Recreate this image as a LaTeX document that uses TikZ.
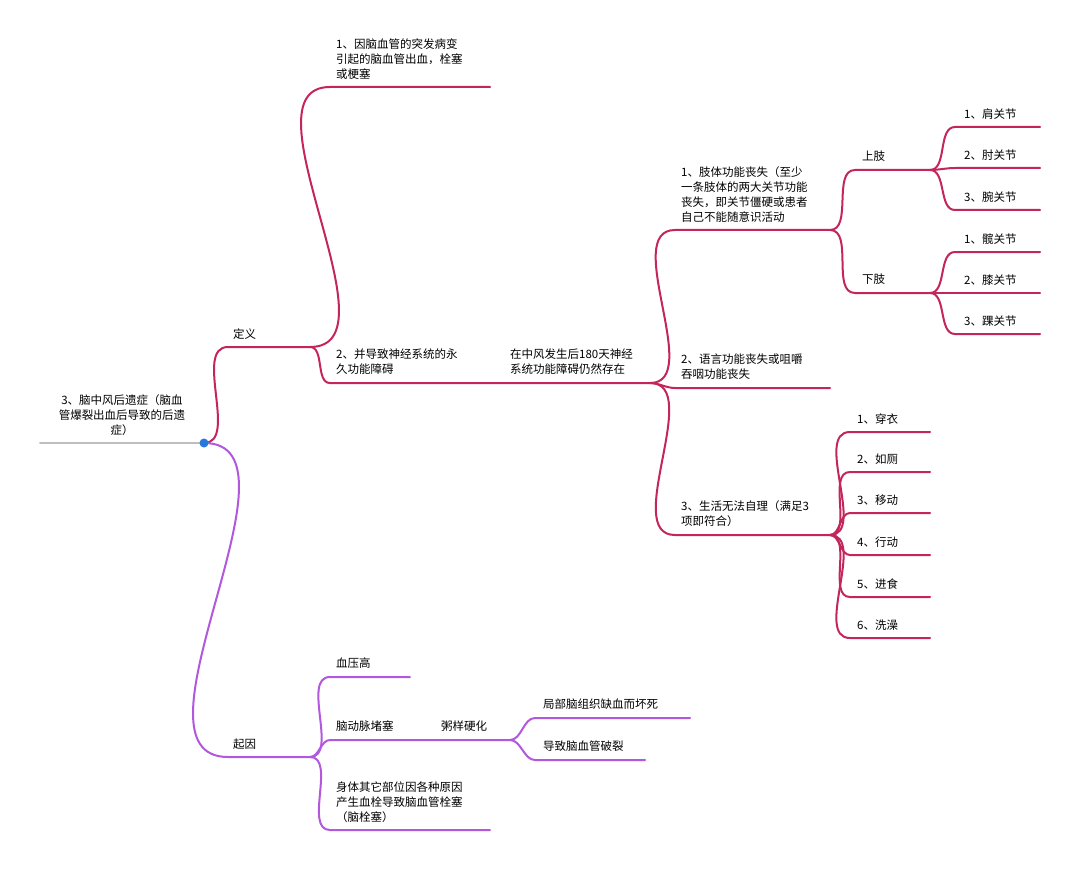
\documentclass[tikz,border=0pt]{standalone}
\usepackage{fontspec}
\newfontfamily\cjk{Noto Sans CJK SC}
\definecolor{rd}{RGB}{196,38,92}
\definecolor{pu}{RGB}{178,88,222}
\definecolor{gr}{RGB}{190,190,190}
\definecolor{bl}{RGB}{40,120,220}
\begin{document}
\begin{tikzpicture}[x=1pt,y=-1pt,
  ln/.style={line width=2pt,line cap=round},
  lr/.style={ln,draw=rd},
  lp/.style={ln,draw=pu},
  cv/.style={out=0,in=180,looseness=0.9},
  tx/.style={anchor=south west,inner sep=0pt,align=left,font=\cjk\fontsize{11.5}{15}\selectfont},
  tc/.style={tx,anchor=south,align=center}]
\useasboundingbox[fill=white] (0,0) rectangle (1080,888);
% root
\coordinate (r0) at (40,443); \coordinate (r) at (204,443);
\draw[ln,draw=gr] (r0) -- (r);
\node[tc] (rt) at (122,436) {3、脑中风后遗症（脑血\\管爆裂出血后导致的后遗\\症）};
% definition
\coordinate (d0) at (228,347); \coordinate (d1) at (310,347);
\draw[lr] (r) to[cv] (d0) -- (d1);
\node[tx] (dt) at (233,340) {定义};
\coordinate (a0) at (330,87); \coordinate (a1) at (490,87);
\draw[lr] (d1) to[cv] (a0) -- (a1);
\node[tx] (at) at (336,80) {1、因脑血管的突发病变\\引起的脑血管出血，栓塞\\或梗塞};
\coordinate (b0) at (330,383); \coordinate (b1) at (510,383); \coordinate (b2) at (650,383);
\draw[lr] (d1) to[cv] (b0) -- (b1) -- (b2);
\node[tx] (bt) at (336,375) {2、并导致神经系统的永\\久功能障碍};
\node[tx] (bt2) at (510,375) {在中风发生后180天神经\\系统功能障碍仍然存在};
% level 3
\coordinate (l0) at (675,230); \coordinate (l1) at (830,230);
\draw[lr] (b2) to[cv] (l0) -- (l1);
\node[tx] (lt) at (681,223) {1、肢体功能丧失（至少\\一条肢体的两大关节功能\\丧失，即关节僵硬或患者\\自己不能随意识活动};
\coordinate (s0) at (675,388); \coordinate (s1) at (830,388);
\draw[lr] (b2) to[cv] (s0) -- (s1);
\node[tx] (st) at (681,380) {2、语言功能丧失或咀嚼\\吞咽功能丧失};
\coordinate (z0) at (675,535); \coordinate (z1) at (830,535);
\draw[lr] (b2) to[cv] (z0) -- (z1);
\node[tx] (zt) at (681,527) {3、生活无法自理（满足3\\项即符合）};
% limbs
\coordinate (u0) at (855,170); \coordinate (u1) at (930,170);
\draw[lr] (l1) to[cv] (u0) -- (u1);
\node[tx] (ut) at (862,162) {上肢};
\coordinate (w0) at (855,293); \coordinate (w1) at (930,293);
\draw[lr] (l1) to[cv] (w0) -- (w1);
\node[tx] (wt) at (862,285) {下肢};
\foreach \y/\t [count=\i] in {127/1、肩关节,168/2、肘关节,210/3、腕关节}{
  \coordinate (ua\i) at (955,\y); \coordinate (ub\i) at (1040,\y);
  \draw[lr] (u1) to[cv] (ua\i) -- (ub\i);
  \node[tx] (ut\i) at (964,\y-7) {\t};}
\foreach \y/\t [count=\i] in {252/1、髋关节,293/2、膝关节,334/3、踝关节}{
  \coordinate (wa\i) at (955,\y); \coordinate (wb\i) at (1040,\y);
  \draw[lr] (w1) to[cv] (wa\i) -- (wb\i);
  \node[tx] (wt\i) at (964,\y-7) {\t};}
\foreach \y/\t [count=\i] in {432/1、穿衣,472/2、如厕,513/3、移动,555/4、行动,597/5、进食,638/6、洗澡}{
  \coordinate (za\i) at (850,\y); \coordinate (zb\i) at (930,\y);
  \draw[lr] (z1) to[cv] (za\i) -- (zb\i);
  \node[tx] (zt\i) at (857,\y-7) {\t};}
% causes
\coordinate (c0) at (228,757); \coordinate (c1) at (310,757);
\draw[lp] (r) to[cv] (c0) -- (c1);
\node[tx] (ct) at (233,750) {起因};
\coordinate (h0) at (330,677); \coordinate (h1) at (410,677);
\draw[lp] (c1) to[cv] (h0) -- (h1);
\node[tx] (ht) at (336,669) {血压高};
\coordinate (n0) at (330,740); \coordinate (n1) at (510,740);
\draw[lp] (c1) to[cv] (n0) -- (n1);
\node[tx] (nt) at (336,732) {脑动脉堵塞};
\node[tx] (nt2) at (441,732) {粥样硬化};
\coordinate (p0) at (535,718); \coordinate (p1) at (690,718);
\draw[lp] (n1) to[cv] (p0) -- (p1);
\node[tx] (pt) at (543,710) {局部脑组织缺血而坏死};
\coordinate (q0) at (535,760); \coordinate (q1) at (645,760);
\draw[lp] (n1) to[cv] (q0) -- (q1);
\node[tx] (qt) at (543,752) {导致脑血管破裂};
\coordinate (o0) at (330,830); \coordinate (o1) at (490,830);
\draw[lp] (c1) to[cv] (o0) -- (o1);
\node[tx] (ot) at (336,823) {身体其它部位因各种原因\\产生血栓导致脑血管栓塞\\（脑栓塞）};
\fill[bl] (r) circle (4.5);
\end{tikzpicture}
\end{document}
